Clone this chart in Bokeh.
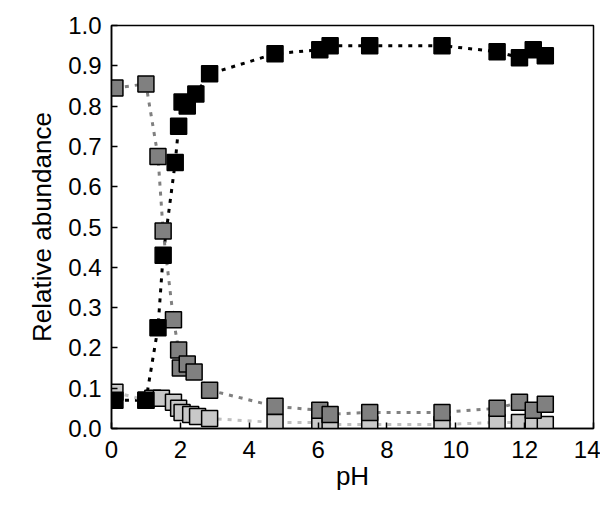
from bokeh.plotting import figure
from bokeh.models import Range1d, FixedTicker, CustomJSTickFormatter
from bokeh.embed import file_html
from bokeh.resources import INLINE

ph = [0.1, 1.0, 1.35, 1.5, 1.85, 1.95, 2.05, 2.2, 2.45, 2.85,
      4.75, 6.05, 6.35, 7.5, 9.6, 11.2, 11.85, 12.25, 12.6]
black = [0.07, 0.07, 0.25, 0.43, 0.66, 0.75, 0.81, 0.80, 0.83, 0.88,
         0.93, 0.94, 0.95, 0.95, 0.95, 0.935, 0.92, 0.94, 0.925]
ph_dark = [0.1, 1.0, 1.35, 1.5, 1.8, 1.95, 2.0, 2.2, 2.4, 2.85,
           4.75, 6.05, 6.35, 7.5, 9.6, 11.2, 11.85, 12.25, 12.6]
dark = [0.845, 0.855, 0.675, 0.49, 0.27, 0.195, 0.15, 0.16, 0.14, 0.095,
        0.055, 0.045, 0.035, 0.04, 0.04, 0.05, 0.065, 0.045, 0.06]
ph_light = [0.1, 1.0, 1.2, 1.45, 1.8, 1.95, 2.05, 2.3, 2.5, 2.85,
            4.75, 6.05, 6.35, 7.5, 9.6, 11.2, 11.85, 12.25, 12.6]
light = [0.09, 0.07, 0.075, 0.075, 0.065, 0.05, 0.04, 0.035, 0.03, 0.025,
         0.015, 0.015, 0.01, 0.01, 0.01, 0.015, 0.015, 0.01, 0.01]

p = figure(width=600, height=506, output_backend="svg", toolbar_location=None,
           x_range=Range1d(0, 14), y_range=Range1d(0, 1.0),
           min_border_left=111, min_border_right=7, min_border_top=25, min_border_bottom=78)
p.grid.visible = False
p.outline_line_color = "black"
p.outline_line_width = 1.5
p.xaxis.ticker = FixedTicker(ticks=list(range(0, 15, 2)))
p.yaxis.ticker = FixedTicker(ticks=[i / 10 for i in range(11)])
p.yaxis.formatter = CustomJSTickFormatter(code="return tick.toFixed(1);")
for ax in (p.xaxis, p.yaxis):
    ax.major_tick_in = 6
    ax.major_tick_out = 0
    ax.minor_tick_line_color = None
    ax.axis_line_width = 1.5
    ax.major_tick_line_width = 1.5
    ax.major_label_text_font = "Liberation Sans"
    ax.major_label_text_font_size = "24px"
    ax.major_label_text_color = "black"
    ax.axis_label_text_font = "Liberation Sans"
    ax.axis_label_text_font_size = "26px"
    ax.axis_label_text_font_style = "normal"
    ax.axis_label_text_color = "black"
p.xaxis.axis_label = "pH"
p.yaxis.axis_label = "Relative abundance"
p.xaxis.axis_label_standoff = 0
p.yaxis.axis_label_standoff = 8
p.xaxis.major_label_standoff = 12
p.yaxis.major_label_standoff = 10

p.line(ph, black, line_color="black", line_width=3, line_dash="4 6")
p.line(ph_dark, dark, line_color="#808080", line_width=3, line_dash="4 6")
p.line(ph_light, light, line_color="#c0c0c0", line_width=3, line_dash="4 6")

p.scatter(ph_light, light, marker="square", size=16, fill_color="#c8c8c8", line_color="black", line_width=1.5)
p.scatter(ph_dark, dark, marker="square", size=16, fill_color="#808080", line_color="black", line_width=1.5)
p.scatter(ph, black, marker="square", size=16, fill_color="black", line_color="black", line_width=1.5)

open("out.html", "w").write(file_html(p, INLINE))
